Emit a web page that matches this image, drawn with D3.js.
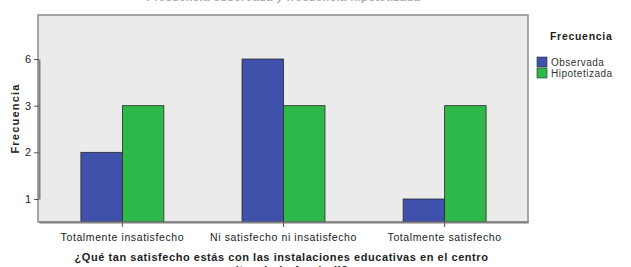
<!DOCTYPE html>
<html>
<head>
<meta charset="utf-8">
<script src="https://cdn.jsdelivr.net/npm/d3@7"></script>
<style>
  body { margin: 0; background: #fff; }
  svg { display: block; font-family: "Liberation Sans", Arial, sans-serif; }
</style>
</head>
<body>
<svg id="chart" width="631" height="267"></svg>
<script>
const categories = ["Totalmente insatisfecho", "Ni satisfecho ni insatisfecho", "Totalmente satisfecho"];
const seriesNames = ["Observada", "Hipotetizada"];
const observada = [2, 6, 1];
const hipotetizada = [3, 3, 3];
const yTickLabels = ["1", "2", "3", "6"];
const colors = ["#3f51aa", "#2fb84a"];

const margin = { top: 15, left: 39, right: 103, bottom: 45 };
const width = 631, height = 267;
const w = width - margin.left - margin.right;
const h = height - margin.top - margin.bottom;

let svg = d3.select("#chart");

// chart title, almost entirely cut off at the top
svg.append("text")
    .attr("x", margin.left + w / 2)
    .attr("y", 1)
    .attr("text-anchor", "middle")
    .style("font-size", "11px")
    .style("font-weight", "bold")
    .style("letter-spacing", "0.5px")
    .style("fill", "#aaa")
    .text("Frecuencia observada y frecuencia hipotetizada");

let g = svg.append("g").attr("transform", `translate(${margin.left}, ${margin.top})`);

let x = d3.scaleBand().domain(categories).range([0, w]).paddingInner(0.485).paddingOuter(0.26);
let x1 = d3.scaleBand().domain(seriesNames).range([0, x.bandwidth()]);
let y = d3.scalePoint().domain(yTickLabels).range([h - 23, 44]);

g.append("rect")
    .attr("x", -1).attr("y", 0)
    .attr("width", w + 1).attr("height", h)
    .attr("fill", "#ebebeb")
    .attr("stroke", "#8a8a8a")
    .attr("stroke-width", 1.5);

let rows = categories.map((c, i) => ({ cat: c, values: [observada[i], hipotetizada[i]] }));

g.selectAll("g.grp")
    .data(rows)
    .enter().append("g")
    .attr("class", "grp")
    .attr("transform", d => `translate(${x(d.cat)}, 0)`)
    .selectAll("rect")
    .data(d => d.values.map((v, j) => ({ name: seriesNames[j], v: v, j: j })))
    .enter().append("rect")
    .attr("x", d => x1(d.name))
    .attr("y", d => y(String(d.v)))
    .attr("width", x1.bandwidth())
    .attr("height", d => h - y(String(d.v)))
    .attr("fill", d => colors[d.j])
    .attr("stroke", "#2a2a2a")
    .attr("stroke-width", 0.8);

let xAxis = d3.axisBottom(x).tickSize(5).tickSizeOuter(0);
let xg = g.append("g").attr("transform", `translate(0, ${h})`).call(xAxis);
xg.select(".domain").attr("stroke", "#808080").attr("stroke-width", 2);
xg.selectAll(".tick line").attr("stroke", "#555");
xg.selectAll("text").attr("dy", "1.0em")
    .style("font-size", "10.5px").style("letter-spacing", "0.6px").style("fill", "#222");

let yAxis = d3.axisLeft(y).tickSize(5).tickSizeOuter(0);
let yg = g.append("g").call(yAxis);
yg.select(".domain").attr("stroke", "#808080").attr("stroke-width", 2);
yg.selectAll(".tick line").attr("stroke", "#555");
yg.selectAll("text").style("font-size", "11px").style("fill", "#222");

// axis titles
svg.append("text")
    .attr("transform", `translate(19, ${margin.top + h / 2}) rotate(-90)`)
    .attr("text-anchor", "middle")
    .style("font-size", "11px")
    .style("font-weight", "bold")
    .style("letter-spacing", "1.2px")
    .style("fill", "#222")
    .text("Frecuencia");

svg.append("text")
    .attr("x", margin.left + w / 2 - 2)
    .attr("y", 261)
    .attr("text-anchor", "middle")
    .style("font-size", "11px")
    .style("font-weight", "bold")
    .style("letter-spacing", "0.55px")
    .style("fill", "#222")
    .text("¿Qué tan satisfecho estás con las instalaciones educativas en el centro");

svg.append("text")
    .attr("x", margin.left + w / 2 - 2)
    .attr("y", 274)
    .attr("text-anchor", "middle")
    .style("font-size", "11px")
    .style("font-weight", "bold")
    .style("letter-spacing", "0.55px")
    .style("fill", "#222")
    .text("penitenciario Ancón II?");

// legend
let lg = svg.append("g").attr("transform", "translate(537, 0)");
lg.append("text")
    .attr("x", 13).attr("y", 40)
    .style("font-size", "10.5px")
    .style("font-weight", "bold")
    .style("letter-spacing", "0.7px")
    .style("fill", "#222")
    .text("Frecuencia");

let items = lg.selectAll("g.item")
    .data(seriesNames)
    .enter().append("g")
    .attr("class", "item")
    .attr("transform", (d, i) => `translate(0, ${57 + i * 11})`);
items.append("rect")
    .attr("width", 10).attr("height", 10)
    .attr("fill", (d, i) => colors[i])
    .attr("stroke", "#2a2a2a").attr("stroke-width", 0.6);
items.append("text")
    .attr("x", 14).attr("y", 9)
    .style("font-size", "10px")
    .style("letter-spacing", "0.5px")
    .style("fill", "#333")
    .text(d => d);
</script>
</body>
</html>
